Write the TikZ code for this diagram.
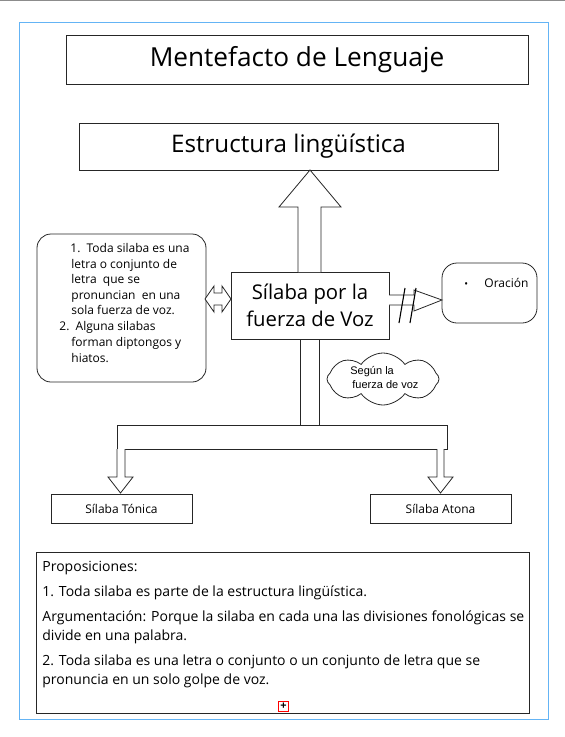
\documentclass[tikz,border=0pt]{standalone}
\usepackage{fontspec}
\setmainfont{Open Sans}
\newfontfamily\arialf{Liberation Sans}
\usetikzlibrary{shapes.symbols}
\definecolor{framblue}{RGB}{100,180,245}
\begin{document}
\begin{tikzpicture}[x=1pt,y=-1pt,line width=0.8pt,
  box/.style={draw=black!85,fill=white,inner sep=0pt},
  rbox/.style={box,rounded corners=14pt},
  barrow/.style={draw=black!85,fill=white,line join=miter},
  txt/.style={inner sep=0pt,anchor=base west,font=\fontsize{12}{14}\selectfont},
  ptxt/.style={inner sep=0pt,anchor=base west,font=\fontsize{14}{16}\selectfont}]
\useasboundingbox (0,0) rectangle (565,737);
\draw[black!45,line width=1pt] (0,0.5) -- (565,0.5);
\draw[framblue,line width=1pt] (19,22) rectangle (548,719);

\node[box,minimum width=462pt,minimum height=49pt,font=\fontsize{26.2}{30}\selectfont] (title) at (297,59.5) {Mentefacto de Lenguaje};
\node[box,minimum width=419pt,minimum height=47pt,font=\fontsize{24.2}{28}\selectfont] (est) at (288.5,146.5) {Estructura lingüística};
\node[box,minimum width=158pt,minimum height=67pt,align=center,font=\fontsize{20.3}{27}\selectfont] (sil) at (310,305.5) {Sílaba por la\\fuerza de Voz};
\node[rbox,minimum width=169pt,minimum height=148pt] (def) at (121.5,308) {};
\node[rbox,rounded corners=15pt,minimum width=95pt,minimum height=60pt] (ora) at (489.5,293) {};
\node[cloud,draw=black!85,cloud puffs=8,cloud puff arc=110,cloud ignores aspect,minimum width=112pt,minimum height=52pt,inner sep=0pt] (nube) at (383,379) {};
\node[box,minimum width=330pt,minimum height=24pt] (bar) at (282,437) {};
\node[box,minimum width=141pt,minimum height=29pt,font=\fontsize{12}{14}\selectfont] (ton) at (121.5,508.5) {Sílaba Tónica};
\node[box,minimum width=141pt,minimum height=29pt,font=\fontsize{12}{14}\selectfont] (ato) at (440.5,508.5) {Sílaba Atona};
\node[box,minimum width=493pt,minimum height=161pt] (prop) at (282.5,632.5) {};

% block arrows
\draw[barrow] (298,272) -- (298,207) -- (279,207) -- (310,170) -- (341,207) -- (321,207) -- (321,272);
\draw[black!85] (300,339) -- (300,425) (319,339) -- (319,425);
\draw[barrow] (117,449) -- (117,477) -- (108,477) -- (120.5,493) -- (133,477) -- (125,477) -- (125,449);
\draw[barrow] (437,449) -- (437,477) -- (428,477) -- (440.5,493) -- (453,477) -- (444,477) -- (444,449);
\draw[barrow] (205,299) -- (214,286) -- (214,293) -- (222,293) -- (222,286) -- (231,299) -- (222,312) -- (222,305) -- (214,305) -- (214,312) -- cycle;
\draw[barrow] (389,295) -- (414,295) -- (414,290) -- (442,300) -- (414,311) -- (414,305) -- (389,305);
\draw[line width=1.1pt] (405,288) -- (399,323);
\draw[line width=1.1pt] (416,288) -- (410,323);

% left box text
\node[txt] (d1) at (70,252) {1.\ \ Toda silaba es una};
\node[txt] (d2) at (71,268) {letra o conjunto de};
\node[txt] (d3) at (71,283) {letra\ \ que se};
\node[txt] (d4) at (71,299) {pronuncian\ \ en una};
\node[txt] (d5) at (71,314) {sola fuerza de voz.};
\node[txt] (d6) at (59,330) {2.\ \ Alguna silabas};
\node[txt] (d7) at (71,346) {forman diptongos y};
\node[txt] (d8) at (71,362) {hiatos.};

% oracion
\node[txt,font=\fontsize{10}{12}\selectfont] (bul) at (464,287) {•};
\node[txt] (oratx) at (484,287) {Oración};

% cloud text
\node[inner sep=0pt,anchor=base west,font=\arialf\fontsize{11}{13}\selectfont] (n1) at (350,374) {Según la};
\node[inner sep=0pt,anchor=base west,font=\arialf\fontsize{11}{13}\selectfont] (n2) at (352,388) {fuerza de voz};

% proposiciones
\node[ptxt] (p1) at (42,571) {Proposiciones:};
\node[ptxt] (p2) at (42,596) {1. Toda silaba es parte de la estructura lingüística.};
\node[ptxt] (p3) at (42,621) {Argumentación: Porque la silaba en cada una las divisiones fonológicas se};
\node[ptxt] (p4) at (42,640) {divide en una palabra.};
\node[ptxt] (p5) at (42,665) {2. Toda silaba es una letra o conjunto o un conjunto de letra que se};
\node[ptxt] (p6) at (42,684) {pronuncia en un solo golpe de voz.};

\node[draw=red,line width=0.7pt,fill=white,minimum size=10pt,inner sep=0pt,font=\bfseries\fontsize{11}{11}\selectfont] (plus) at (283.5,706.5) {+};
\end{tikzpicture}
\end{document}
